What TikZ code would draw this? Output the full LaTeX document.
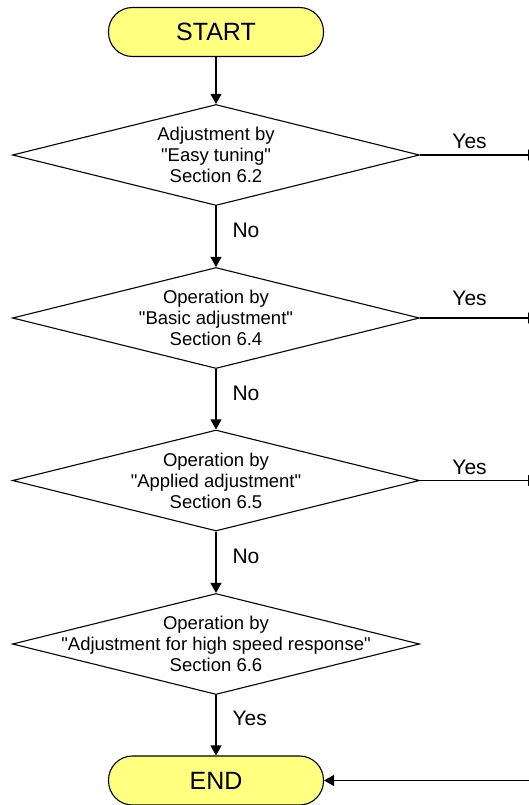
\documentclass[tikz,border=0pt]{standalone}
\usepackage{fontspec}
\usepackage{tikz}
\usepackage{xcolor}
\usetikzlibrary{shapes.geometric,arrows.meta}
\setmainfont{Liberation Sans}[Ligatures=TeXOff]
\definecolor{termyellow}{RGB}{255,255,128}

\begin{document}
\begin{tikzpicture}[x=1pt,y=-1pt,
  terminal/.style={draw, line width=1.1pt, fill=termyellow, rounded corners=24pt,
    minimum width=215pt, minimum height=49pt, inner sep=0pt, font=\fontsize{25}{30}\selectfont},
  decision/.style={draw, diamond, line width=1.1pt, minimum width=407pt, minimum height=101pt, inner sep=0pt},
  decisiontext/.style={align=center, inner sep=0pt, font=\fontsize{18.5}{21}\selectfont},
  branch/.style={inner sep=0pt, font=\fontsize{21}{25}\selectfont},
  flow/.style={line width=1.1pt, -{Triangle[width=11pt,length=10pt]}}]
  \useasboundingbox (0,0) rectangle (529,805);
  \clip (0,0) rectangle (529,805);

  \node[terminal] (start) at (216,32) {START};
  \node[decision] (d1) at (216,155) {};
  \node[decisiontext] at (d1) {Adjustment by\\"Easy tuning"\\Section 6.2};
  \node[decision] (d2) at (216,318) {};
  \node[decisiontext] at (d2) {Operation by\\"Basic adjustment"\\Section 6.4};
  \node[decision] (d3) at (216,480.5) {};
  \node[decisiontext] at (d3) {Operation by\\"Applied adjustment"\\Section 6.5};
  \node[decision] (d4) at (216,644) {};
  \node[decisiontext] at (d4) {Operation by\\"Adjustment for high speed response"\\Section 6.6};
  \node[terminal] (end) at (216,780.5) {END};

  % exits to the right, cut off at the edge
  \coordinate (yes1) at (538,155);
  \coordinate (yes2) at (538,318);
  \coordinate (yes3) at (538,480.5);
  \coordinate (back) at (540,780.5);

  \draw[flow] (start) -- (d1);
  \draw[flow] (d1) -- node[branch, pos=0.4, right=16pt] {No} (d2);
  \draw[flow] (d2) -- node[branch, pos=0.4, right=16pt] {No} (d3);
  \draw[flow] (d3) -- node[branch, pos=0.4, right=16pt] {No} (d4);
  \draw[flow] (d4) -- node[branch, pos=0.38, right=16pt] {Yes} (end);

  \draw[flow] (d1.east) -- node[branch, pos=0.42, above=6pt] {Yes} (yes1);
  \draw[flow] (d2.east) -- node[branch, pos=0.42, above=12pt] {Yes} (yes2);
  \draw[flow] (d3.east) -- node[branch, pos=0.42, above=5pt] {Yes} (yes3);
  \draw[flow] (back) -- (end);
\end{tikzpicture}
\end{document}
